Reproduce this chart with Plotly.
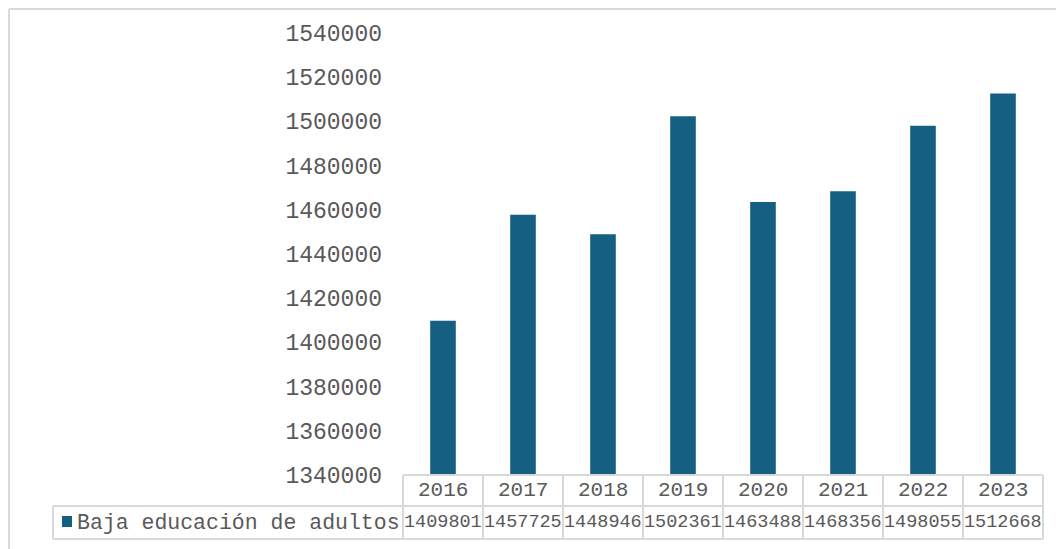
import plotly.graph_objects as go

years = ["2016", "2017", "2018", "2019", "2020", "2021", "2022", "2023"]
values = [1409801, 1457725, 1448946, 1502361, 1463488, 1468356, 1498055, 1512668]
series_name = "Baja educación de adultos"
y_ticks = [1340000, 1360000, 1380000, 1400000, 1420000, 1440000, 1460000, 1480000, 1500000, 1520000, 1540000]

W, H = 1064, 549
OFF = 8  # page body margin offset
BAR = "#156082"
GRID = "#d9d9d9"
TXT = "#595959"
FONT = "Liberation Mono, Courier New, monospace"

# pixel geometry (screen coordinates)
px_left, px_right = 403, 1043
py_top, py_bottom = 33, 475
row1_top, row2_top, row2_bot = 475, 506, 539
legend_left = 53

def fx(px):
    return (px - OFF) / W

def fy(py):
    return 1 - (py - OFF) / H

fig = go.Figure()
fig.add_trace(go.Bar(x=years, y=values, marker=dict(color=BAR, line=dict(width=0)),
                     name=series_name, showlegend=False))

shapes = []
annotations = []
n = len(years)
cw = (px_right - px_left) / n
# outer chart border
shapes.append(dict(type="line", xref="paper", yref="paper", x0=fx(9), x1=1.01, y0=fy(9), y1=fy(9),
                   line=dict(color=GRID, width=2)))
shapes.append(dict(type="line", xref="paper", yref="paper", x0=fx(9), x1=fx(9), y0=fy(9), y1=-0.01,
                   line=dict(color=GRID, width=2)))
# table horizontal lines
shapes.append(dict(type="line", xref="paper", yref="paper", x0=fx(px_left), x1=fx(px_right),
                   y0=fy(row1_top), y1=fy(row1_top), line=dict(color=GRID, width=2)))
shapes.append(dict(type="line", xref="paper", yref="paper", x0=fx(legend_left), x1=fx(px_right),
                   y0=fy(row2_top), y1=fy(row2_top), line=dict(color=GRID, width=2)))
shapes.append(dict(type="line", xref="paper", yref="paper", x0=fx(legend_left), x1=fx(px_right),
                   y0=fy(row2_bot), y1=fy(row2_bot), line=dict(color=GRID, width=2)))
shapes.append(dict(type="line", xref="paper", yref="paper", x0=fx(legend_left), x1=fx(legend_left),
                   y0=fy(row2_top), y1=fy(row2_bot), line=dict(color=GRID, width=2)))
for i in range(n + 1):
    x = px_left + i * cw
    shapes.append(dict(type="line", xref="paper", yref="paper", x0=fx(x), x1=fx(x),
                       y0=fy(row1_top), y1=fy(row2_bot), line=dict(color=GRID, width=2)))
# legend key
shapes.append(dict(type="rect", xref="paper", yref="paper", x0=fx(62), x1=fx(72), y0=fy(516), y1=fy(527),
                   fillcolor=BAR, line=dict(width=0)))

for i, (yr, v) in enumerate(zip(years, values)):
    cx = px_left + (i + 0.5) * cw
    annotations.append(dict(xref="paper", yref="paper", x=fx(cx), y=fy((row1_top + row2_top) / 2),
                            text=yr, showarrow=False, xanchor="center", yanchor="middle",
                            font=dict(family=FONT, size=21, color=TXT)))
    annotations.append(dict(xref="paper", yref="paper", x=fx(cx), y=fy((row2_top + row2_bot) / 2),
                            text=str(v), showarrow=False, xanchor="center", yanchor="middle",
                            font=dict(family=FONT, size=18.5, color=TXT)))
annotations.append(dict(xref="paper", yref="paper", x=fx(75), y=fy((row2_top + row2_bot) / 2),
                        text=series_name, showarrow=False, xanchor="left", yanchor="middle",
                        font=dict(family=FONT, size=21.5, color=TXT)))

fig.update_layout(
    width=W, height=H,
    margin=dict(l=0, r=0, t=0, b=0, autoexpand=False),
    paper_bgcolor="white", plot_bgcolor="white",
    bargap=0.68,
    xaxis=dict(domain=[fx(px_left), fx(px_right)], showticklabels=False, showgrid=False,
               zeroline=False, showline=False, automargin=False),
    yaxis=dict(domain=[fy(py_bottom), fy(py_top)], range=[1340000, 1540000], tickvals=y_ticks,
               ticktext=[str(t) for t in y_ticks], showgrid=False, zeroline=False, showline=False,
               automargin=False,
               tickfont=dict(family=FONT, size=23, color=TXT), ticklabelstandoff=20),
    shapes=shapes,
    annotations=annotations,
)

fig.write_html("out.html")
